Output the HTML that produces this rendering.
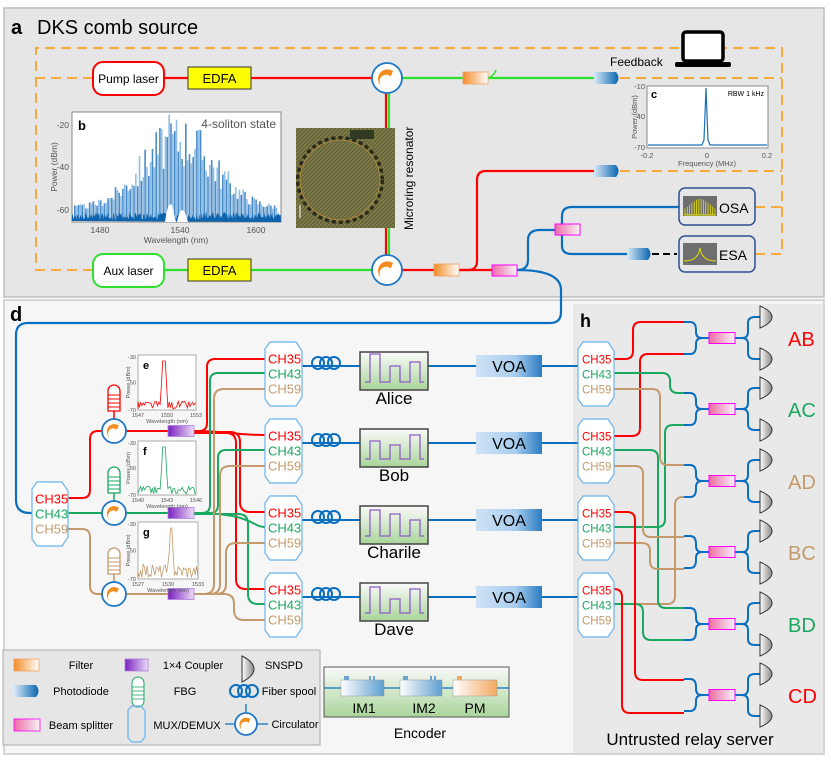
<!DOCTYPE html>
<html><head><meta charset="utf-8"><style>
html,body{margin:0;padding:0;background:#fff}
svg{display:block;font-family:"Liberation Sans",Arial,sans-serif}
</style></head><body>
<svg id="s" width="831" height="761" viewBox="0 0 831 761" xmlns="http://www.w3.org/2000/svg">
<defs>
<linearGradient id="gf" x1="0" x2="1"><stop offset="0" stop-color="#f28c28"/><stop offset="1" stop-color="#fff"/></linearGradient>
<linearGradient id="gp" x1="0" x2="1"><stop offset="0" stop-color="#d9eaf7"/><stop offset="1" stop-color="#0a66b0"/></linearGradient>
<linearGradient id="gb" x1="0" x2="1"><stop offset="0" stop-color="#f06aa8"/><stop offset="1" stop-color="#f5f5f5"/></linearGradient>
<linearGradient id="gc" x1="0" x2="1"><stop offset="0" stop-color="#7a1fc0"/><stop offset="1" stop-color="#eadcf7"/></linearGradient>
<linearGradient id="ge" x1="0" y1="0" x2="0" y2="1"><stop offset="0" stop-color="#fafafa"/><stop offset="1" stop-color="#a9d59a"/></linearGradient>
<linearGradient id="gv" x1="0" x2="1"><stop offset="0" stop-color="#cfe3f5"/><stop offset="0.6" stop-color="#a8cdee"/><stop offset="1" stop-color="#2a7cc4"/></linearGradient>
<linearGradient id="gd" x1="0" x2="1"><stop offset="0" stop-color="#fff"/><stop offset="1" stop-color="#888"/></linearGradient>
<linearGradient id="gi" x1="0" x2="1"><stop offset="0" stop-color="#fff"/><stop offset="1" stop-color="#5d9fcf"/></linearGradient>
<linearGradient id="gpm" x1="0" x2="1"><stop offset="0" stop-color="#fff"/><stop offset="1" stop-color="#f0a860"/></linearGradient>
<pattern id="mr" width="4" height="4" patternUnits="userSpaceOnUse"><rect width="4" height="4" fill="#7c7a48"/><path d="M0 4 L4 0" stroke="#5e5c34" stroke-width="1"/></pattern>
</defs>
<rect x="4" y="8" width="820" height="289" fill="#e6e6e6" stroke="#bdbdbd" stroke-width="1.5"/>
<rect x="4" y="300" width="820" height="454" fill="#f6f6f6" stroke="#c8c8c8" stroke-width="1.5"/>
<rect x="573" y="304" width="250" height="449" fill="#e9e9e9"/>
<text x="11" y="34" font-size="20" font-weight="bold">a</text>
<text x="37" y="34" font-size="20">DKS comb source</text>
<text x="10" y="321" font-size="20" font-weight="bold">d</text>
<text x="580" y="327" font-size="18" font-weight="bold">h</text>

<g fill="none" stroke="#f7a93a" stroke-width="2" stroke-dasharray="10,6">
<path d="M93 78 H36 V48 H782 V254 H755"/>
<path d="M93 270 H36 V60"/>
<path d="M620 78 H782"/>
<path d="M620 171 H782"/>
<path d="M755 207 H782"/>
</g>
<rect x="683" y="32" width="40" height="29" rx="3" fill="#fff" stroke="#000" stroke-width="3.5"/>
<rect x="675" y="62" width="56" height="5" rx="2" fill="#000"/>
<text x="610" y="66" font-size="12">Feedback</text>

<g fill="none" stroke-width="2.2">
<path d="M164 78 H372" stroke="#f00"/>
<path d="M164 270 H372" stroke="#2ee02e"/>
<path d="M402 78 H594" stroke="#2ee02e"/>
<path d="M389 93 V255" stroke="#2ee02e"/>
<path d="M386 93 V255" stroke="#f00"/>
<path d="M402 270 H492" stroke="#f00"/>
<path d="M460 270 H468 Q477 270 477 261 V180 Q477 171 486 171 H594" stroke="#f00"/>
<path d="M517 270 Q528 270 528 260 V240 Q528 230 540 230 H556 Q562 230 562 222 V216 Q562 207 572 207 H679" stroke="#0a6fbf"/>
<path d="M562 222 V246 Q562 254 572 254 H627" stroke="#0a6fbf"/>
<path d="M517 270 Q561 270 561 290 V312 Q561 323 550 323 H28 Q16 323 16 335 V500 Q16 513 30 513 H34" stroke="#0a6fbf"/>
</g>
<path d="M652 254 H677" stroke="#000" stroke-width="2" stroke-dasharray="7,4"/>
<path d="M488 78 Q494 76 496 70" stroke="#2ee02e" stroke-width="1.5" fill="none"/>

<rect x="93" y="62" width="71" height="33" rx="10" fill="#fff" stroke="#f00" stroke-width="2"/>
<text x="128.5" y="83" font-size="12" text-anchor="middle">Pump laser</text>
<rect x="93" y="254" width="71" height="33" rx="10" fill="#fff" stroke="#2ee02e" stroke-width="2"/>
<text x="128.5" y="275" font-size="12" text-anchor="middle">Aux laser</text>
<rect x="188" y="67" width="63" height="22" fill="#ffff00" stroke="#333"/>
<text x="219.5" y="83" font-size="13" text-anchor="middle">EDFA</text>
<rect x="188" y="259" width="63" height="22" fill="#ffff00" stroke="#333"/>
<text x="219.5" y="275" font-size="13" text-anchor="middle">EDFA</text>

<rect x="463" y="72" width="25" height="12" fill="url(#gf)" stroke="#f2a060" stroke-width="0.8"/>
<rect x="434" y="264" width="25" height="12" fill="url(#gf)" stroke="#f2a060" stroke-width="0.8"/>
<rect x="492" y="265" width="25" height="11" fill="url(#gb)" stroke="#f0f" stroke-width="1"/>
<rect x="555" y="224" width="25" height="11" fill="url(#gb)" stroke="#f0f" stroke-width="1"/>
<path d="M594 72 H616 Q621 78 616 84 H594 Z" fill="url(#gp)"/>
<path d="M594 165 H616 Q621 171 616 177 H594 Z" fill="url(#gp)"/>
<path d="M627 248 H648 Q653 254 648 260 H627 Z" fill="url(#gp)"/>

<rect x="296" y="128" width="99" height="100" fill="url(#mr)"/>
<circle cx="340" cy="180" r="42" fill="none" stroke="#2a2a1a" stroke-width="4" stroke-dasharray="4,3"/>
<circle cx="340" cy="180" r="40" fill="none" stroke="#b08a40" stroke-width="1"/>
<rect x="350" y="130" width="24" height="9" fill="#2f3a20"/>
<path d="M300 218 V205" stroke="#fff" stroke-width="1"/>
<text transform="translate(413,230) rotate(-90)" font-size="12">Microring resonator</text>

<g id="circs"></g>

<rect x="72" y="112" width="209" height="110" fill="#fff" stroke="#888"/>
<g id="comb"></g>
<text x="78" y="130" font-size="13" font-weight="bold">b</text>
<text x="276" y="128" font-size="12" fill="#555" text-anchor="end">4-soliton state</text>
<g font-size="8.5" fill="#555" text-anchor="end">
<text x="69" y="128">-20</text><text x="69" y="170">-40</text><text x="69" y="213">-60</text></g>
<g font-size="8.5" fill="#555" text-anchor="middle">
<text x="100" y="233">1480</text><text x="180" y="233">1540</text><text x="256" y="233">1600</text>
<text x="176" y="243">Wavelength (nm)</text></g>
<text transform="translate(57,167) rotate(-90)" font-size="8.5" fill="#555" text-anchor="middle">Power (dBm)</text>

<rect x="647" y="86" width="121" height="62" fill="#fff" stroke="#888"/>
<path d="M648 145 H702 L704 140 L706 88 L708 140 L710 145 H767" fill="none" stroke="#1f6fb5" stroke-width="1.2"/>
<text x="651" y="98" font-size="11" font-weight="bold">c</text>
<text x="764" y="96" font-size="7" text-anchor="end">RBW 1 kHz</text>
<g font-size="7.5" fill="#555" text-anchor="end"><text x="645" y="89">-10</text><text x="645" y="119">-40</text><text x="645" y="150">-70</text></g>
<g font-size="7.5" fill="#555" text-anchor="middle"><text x="647" y="158">-0.2</text><text x="707" y="158">0</text><text x="767" y="158">0.2</text><text x="707" y="166">Frequency (MHz)</text></g>
<text transform="translate(637,117) rotate(-90)" font-size="7.5" fill="#555" text-anchor="middle">Power (dBm)</text>

<rect x="679" y="188" width="76" height="37" rx="6" fill="#e6e6e6" stroke="#2f4f8f" stroke-width="1.5"/>
<rect x="683" y="196" width="34" height="20" fill="#6e6e6e"/>
<g id="osa"></g>
<text x="719" y="213" font-size="14">OSA</text>
<rect x="679" y="236" width="76" height="36" rx="6" fill="#e6e6e6" stroke="#2f4f8f" stroke-width="1.5"/>
<rect x="683" y="243" width="34" height="22" fill="#6e6e6e"/>
<path d="M684 261 Q696 261 699 252 L700 248 L701 252 Q704 261 716 261" fill="none" stroke="#e8e000" stroke-width="1"/>
<text x="719" y="260" font-size="14">ESA</text>

<g id="dpanel"></g>

<rect x="3" y="650" width="317" height="95" fill="#e6e6e6" stroke="#aaa"/>
<rect x="14" y="659" width="25" height="12" fill="url(#gf)" stroke="#f2a060" stroke-width="0.8"/>
<text x="81" y="669" font-size="11" text-anchor="middle">Filter</text>
<path d="M14 685 H36 Q41 691 36 697 H14 Z" fill="url(#gp)"/>
<text x="81" y="695" font-size="11" text-anchor="middle">Photodiode</text>
<rect x="14" y="719" width="26" height="12" fill="url(#gb)" stroke="#f0f" stroke-width="0.8"/>
<text x="81" y="729" font-size="11" text-anchor="middle">Beam splitter</text>
<rect x="125" y="659" width="23" height="12" fill="url(#gc)" stroke="#b080e0" stroke-width="0.8"/>
<text x="193" y="669" font-size="11" text-anchor="middle">1×4 Coupler</text>
<text x="185" y="695" font-size="11" text-anchor="middle">FBG</text>
<text x="187" y="729" font-size="11" text-anchor="middle">MUX/DEMUX</text>
<path d="M242 656 Q254 662 254 669 Q254 676 242 682 Z" fill="url(#gd)" stroke="#333" stroke-width="1"/>
<text x="284" y="669" font-size="11" text-anchor="middle">SNSPD</text>
<text x="289" y="695" font-size="11" text-anchor="middle">Fiber spool</text>
<text x="295" y="728" font-size="11" text-anchor="middle">Circulator</text>
<path d="M225 724 H268 M246 704 V712" stroke="#0a6fbf" stroke-width="1.3"/>
<g id="leg"></g>

<rect x="324" y="667" width="185" height="50" fill="url(#ge)" stroke="#555"/>
<path d="M324 688 H509" stroke="#0a6fbf" stroke-width="1.3"/>
<rect x="341" y="680" width="43" height="16" fill="url(#gi)" stroke="#999" stroke-width="0.5"/>
<rect x="400" y="680" width="42" height="16" fill="url(#gi)" stroke="#999" stroke-width="0.5"/>
<rect x="453" y="680" width="44" height="16" fill="url(#gpm)" stroke="#999" stroke-width="0.5"/>
<g fill="#6aa4d3"><rect x="344" y="676" width="5" height="4"/><rect x="369" y="676" width="2" height="4"/><rect x="373" y="676" width="2" height="4"/><rect x="403" y="676" width="5" height="4"/><rect x="430" y="676" width="2" height="4"/><rect x="434" y="676" width="2" height="4"/></g>
<rect x="457" y="676" width="5" height="4" fill="#f0a860"/>
<g font-size="14" text-anchor="middle"><text x="364" y="713">IM1</text><text x="424" y="713">IM2</text><text x="475" y="713">PM</text><text x="420" y="738">Encoder</text></g>

<g id="hpanel"></g>
<text x="690" y="745" font-size="17" text-anchor="middle">Untrusted relay server</text>
</svg>
<script>
var NS="http://www.w3.org/2000/svg";
function el(p,t,a,txt){var e=document.createElementNS(NS,t);for(var k in a)e.setAttribute(k,a[k]);if(txt!==undefined)e.textContent=txt;document.getElementById(p).appendChild(e);return e;}
function circ(p,x,y,r){el(p,'circle',{cx:x,cy:y,r:r,fill:'#fff',stroke:'#1f77c4','stroke-width':1.8});
 el(p,'path',{d:'M'+(x-r*0.35)+' '+(y+r*0.55)+' A'+(r*0.6)+' '+(r*0.6)+' 0 0 1 '+(x+r*0.4)+' '+(y-r*0.45)+' L'+(x+r*0.25)+' '+(y-r*0.1)+' A'+(r*0.4)+' '+(r*0.4)+' 0 0 0 '+(x-r*0.35)+' '+(y+r*0.55)+'Z',fill:'#f28c1e'});}
circ('circs',387,78,15);circ('circs',387,270,15);
var seed=3;function rnd(){seed=(seed*9301+49297)%233280;return seed/233280;}
var d='M72 221';for(var x=72;x<281;x+=0.7){d+=' L'+x.toFixed(1)+' '+(212+rnd()*8).toFixed(1);}d+=' L281 222 Z';
for(var i=0;i<110;i++){var x=74+i*1.85;var c=178;var h=Math.exp(-Math.pow((x-c)/50,2));var y=214-(h*95+8)*(0.45+rnd()*0.55);
 el('comb','rect',{x:x,y:y,width:1.6,height:220-y,fill:i%2?'#7fb4e0':'#2a78bd',opacity:0.85});}
el('comb','path',{d:d,fill:'#0d63ad'});
el('comb','path',{d:'M165 222 Q168 200 172 205 L176 222 Z',fill:'#fff'});
el('comb','path',{d:'M177 222 Q182 198 188 222 Z',fill:'#fff'});
for(var i=0;i<14;i++){var x=685+i*2.3;var h=Math.exp(-Math.pow((x-700)/14,2))*14+2;el('osa','path',{d:'M'+x+' 215 V'+(215-h),stroke:'#e8e000','stroke-width':0.8});}
el('osa','path',{d:'M684 215 H716',stroke:'#e8e000','stroke-width':1});

function mux(p,x,y,w,h,labels,fs,tx){
 el(p,'path',{d:'M'+(x+5)+' '+y+' H'+(x+w-6)+' L'+(x+w)+' '+(y+9)+' V'+(y+h-9)+' L'+(x+w-6)+' '+(y+h)+' H'+(x+5)+' L'+x+' '+(y+h-7)+' V'+(y+7)+' Z',fill:'#fff',stroke:'#6ab4ec','stroke-width':1.2});
 var cols=['#f00','#1aa860','#c49a6c'];
 for(var i=0;i<3;i++)el(p,'text',{x:x+tx,y:y+h/2+4.5+(i-1)*15,'font-size':fs,fill:cols[i]},labels[i]);}
var L=['CH35','CH43','CH59'];
function route(p,col,x0,y0,xv,x1,y1,r){r=r||8;var s=y1>y0?1:-1;if(Math.abs(y1-y0)<2*r){el(p,'path',{d:'M'+x0+' '+y0+' C'+xv+' '+y0+' '+xv+' '+y1+' '+x1+' '+y1,fill:'none',stroke:col,'stroke-width':2});return;}
 el(p,'path',{d:'M'+x0+' '+y0+' H'+(xv-r)+' Q'+xv+' '+y0+' '+xv+' '+(y0+s*r)+' V'+(y1-s*r)+' Q'+xv+' '+y1+' '+(xv+r)+' '+y1+' H'+x1,fill:'none',stroke:col,'stroke-width':2});}
var R='#f00',G='#1aa860',T='#c49a6c',B='#0a6fbf';
route('dpanel',R,68,498,90,102,431,8);
el('dpanel','path',{d:'M68 513 H102',stroke:G,'stroke-width':2});
route('dpanel',T,68,529,90,102,594,8);
el('dpanel','path',{d:'M126 431 H168',stroke:R,'stroke-width':2});
el('dpanel','path',{d:'M126 513 H168',stroke:G,'stroke-width':2});
el('dpanel','path',{d:'M126 594 H168',stroke:T,'stroke-width':2});
var rows=[366,443,520,597];
route('dpanel',R,194,431,207,265,359,8);
route('dpanel',R,194,431,230,265,435,8);
route('dpanel',R,194,432,240,265,512,10);
route('dpanel',R,194,433,236,265,589,10);
route('dpanel',G,194,513,210,265,373,8);
route('dpanel',G,194,513,218,265,450,8);
route('dpanel',G,194,513,252,265,527,8);
route('dpanel',G,194,514,248,265,604,10);
route('dpanel',T,194,594,214,265,389,10);
route('dpanel',T,194,594,220,265,466,10);
route('dpanel',T,194,594,226,265,543,10);
route('dpanel',T,194,594,234,265,620,10);
mux('dpanel',32,482,36,64,L,13,3);
var fc=['#f00','#1aa860','#c49a6c'],cy=[431,513,594];
for(var i=0;i<3;i++){var y=cy[i];
 el('dpanel','path',{d:'M114 '+(y-12)+' V'+(y-20),stroke:fc[i],'stroke-width':1.5});
 el('dpanel','path',{d:'M108 '+(y-20)+' V'+(y-40)+' A6 6 0 0 1 120 '+(y-40)+' V'+(y-20)+' Z',fill:'#fff',stroke:fc[i],'stroke-width':1.3});
 for(var k=0;k<4;k++)el('dpanel','path',{d:'M108 '+(y-24-k*4)+' H120',stroke:fc[i],'stroke-width':1});
 circ('dpanel',114,y,12);
 el('dpanel','rect',{x:168,y:y-5.5,width:26,height:11,fill:'url(#gc)',stroke:'#b080e0','stroke-width':0.8});}
var ins=[[138,355,196,410,'#f00','e',['1547','1550','1553']],[138,441,196,495,'#1aa860','f',['1540','1543','1546']],[138,522,198,579,'#c49a6c','g',['1527','1530','1533']]];
ins.forEach(function(a,j){var x0=a[0],y0=a[1],x1=a[2],y1=a[3];
 el('dpanel','rect',{x:x0,y:y0,width:x1-x0,height:y1-y0,fill:'#fff',stroke:'#777','stroke-width':0.6});
 var pk=x0+(x1-x0)*(j==2?0.55:0.45),d='M'+x0+' '+(y1-1);
 for(var x=x0;x<x1;x+=1.3){var y=y1-1-rnd()*(j==2?14:8);if(Math.abs(x-pk)<1.5)y=y0+6;else if(Math.abs(x-pk)<3)y=y0+30;d+=' L'+x.toFixed(1)+' '+y.toFixed(1);}
 el('dpanel','path',{d:d,fill:'none',stroke:a[4],'stroke-width':0.8});
 el('dpanel','text',{x:x0+5,y:y0+14,'font-size':11,'font-weight':'bold'},a[5]);
 el('dpanel','text',{x:x0-2,y:y0+4,'font-size':5.5,fill:'#555','text-anchor':'end'},'-30');
 el('dpanel','text',{x:x0-2,y:(y0+y1)/2+2,'font-size':5.5,fill:'#555','text-anchor':'end'},'-50');
 el('dpanel','text',{x:x0-2,y:y1+2,'font-size':5.5,fill:'#555','text-anchor':'end'},'-70');
 el('dpanel','text',{x:x0,y:y1+7,'font-size':5.5,fill:'#555','text-anchor':'middle'},a[6][0]);
 el('dpanel','text',{x:(x0+x1)/2,y:y1+7,'font-size':5.5,fill:'#555','text-anchor':'middle'},a[6][1]);
 el('dpanel','text',{x:x1,y:y1+7,'font-size':5.5,fill:'#555','text-anchor':'middle'},a[6][2]);
 el('dpanel','text',{x:(x0+x1)/2,y:y1+13,'font-size':5.5,fill:'#555','text-anchor':'middle'},'Wavelength (nm)');
 el('dpanel','text',{transform:'translate('+(x0-8)+','+((y0+y1)/2)+') rotate(-90)','font-size':5.5,fill:'#555','text-anchor':'middle'},'Power (dBm)');});
var names=['Alice','Bob','Charile','Dave'];
rows.forEach(function(y,i){
 el('dpanel','path',{d:'M302 '+y+' H578',stroke:B,'stroke-width':2});
 mux('dpanel',265,y-24,37,64,L,13,3);
 for(var k=0;k<3;k++)el('dpanel','circle',{cx:318+k*8,cy:y-3,r:6,fill:'none',stroke:B,'stroke-width':2});
 el('dpanel','rect',{x:360,y:y-14,width:68,height:38,fill:'url(#ge)',stroke:'#444','stroke-width':1.5});
 var hs=[[28,0,16,0,20],[18,0,14,0,24],[26,0,22,0,16],[26,0,14,0,24]][i];
 var xx=370,pd='M365 '+(y+16)+' H370';
 for(var k=0;k<5;k++){if(k%2==0){pd+=' V'+(y+16-hs[k])+' H'+(xx+10)+' V'+(y+16);}else pd+=' H'+(xx+10);xx+=10;}
 pd+=' H424';
 el('dpanel','path',{d:pd,fill:'none',stroke:'#8e5cc8','stroke-width':1.3});
 el('dpanel','text',{x:394,y:y+38,'font-size':17,'text-anchor':'middle'},names[i]);
 el('dpanel','rect',{x:476,y:y-11,width:66,height:22,fill:'url(#gv)'});
 el('dpanel','text',{x:509,y:y+6,'font-size':16,'text-anchor':'middle'},'VOA');
});
var bs=[338,409,481,552,624,695],lab=['AB','AC','AD','BC','BD','CD'],lc=[R,G,T,T,G,R];
var rr=[[R,614,359,633,322],[R,614,436,640,354],[G,614,373,670,393],[G,614,527,665,425],[T,614,389,660,465],[T,614,604,675,497],
[G,614,450,658,608],[G,614,604,643,640],[T,614,466,643,537],[T,614,543,650,569],[R,614,512,635,680],[R,614,589,622,713]];
rr.forEach(function(a){var col=a[0],x0=a[1],y0=a[2],xv=a[3],y1=a[4];
 el('hpanel','path',{d:'M'+x0+' '+y0+' H'+(xv-8)+' Q'+xv+' '+y0+' '+xv+' '+(y0+(y1>y0?8:-8))+' V'+(y1-(y1>y0?8:-8))+' Q'+xv+' '+y1+' '+(xv+8)+' '+y1+' H684',fill:'none',stroke:col,'stroke-width':2});});
bs.forEach(function(y,i){var a=y-16,b=y+16;
 el('hpanel','path',{d:'M684 '+a+' H690 Q696 '+a+' 696 '+(a+8)+' V'+(y-6)+' Q696 '+y+' 702 '+y+' H709 M684 '+b+' H690 Q696 '+b+' 696 '+(b-8)+' V'+(y+6)+' Q696 '+y+' 702 '+y,fill:'none',stroke:B,'stroke-width':2});
 el('hpanel','path',{d:'M735 '+y+' H742 Q748 '+y+' 748 '+(y-6)+' V'+(a+1)+' Q748 '+(a-5)+' 755 '+(a-5)+' H760 M742 '+y+' Q748 '+y+' 748 '+(y+6)+' V'+(b-1)+' Q748 '+(b+5)+' 755 '+(b+5)+' H760',fill:'none',stroke:B,'stroke-width':2});
 el('hpanel','rect',{x:709,y:y-5.5,width:26,height:11,fill:'url(#gb)',stroke:'#f0f','stroke-width':1});
 [a-5,b+5].forEach(function(yy){el('hpanel','path',{d:'M760 '+(yy-11)+' Q772 '+(yy-6)+' 772 '+yy+' Q772 '+(yy+6)+' 760 '+(yy+11)+' Z',fill:'url(#gd)',stroke:'#333','stroke-width':1});});
 el('hpanel','text',{x:788,y:y+8,'font-size':20,fill:lc[i]},lab[i]);});
rows.forEach(function(y){mux('hpanel',578,y-24,36,64,L,11.5,4);});
function g(t,a){return el('leg',t,a);}
g('path',{d:'M144 683 V701 A6 6 0 0 1 132 701 V683 A6 6 0 0 1 144 683Z',fill:'#fff',stroke:'#1aa860','stroke-width':1});
for(var k=0;k<4;k++)g('path',{d:'M132 '+(687+k*4)+' H144',stroke:'#1aa860','stroke-width':0.8});
g('path',{d:'M132 706 H141 L145 711 V737 L141 742 H132 L128 738 V710Z',fill:'none',stroke:'#6ab4ec','stroke-width':1.2});
for(var k=0;k<3;k++)g('circle',{cx:236+k*8,cy:691,r:6,fill:'none',stroke:B,'stroke-width':2});
circ('leg',246,724,11);
</script>
</body></html>
